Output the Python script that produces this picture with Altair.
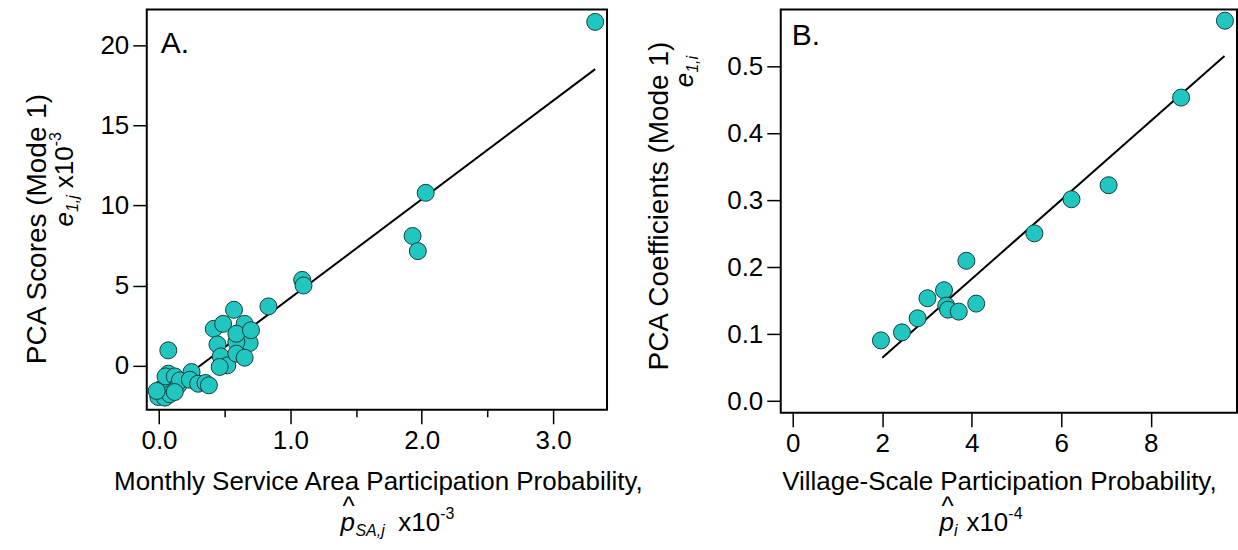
import altair as alt
import pandas as pd

# ---------------- data ----------------
# Panel A: monthly service-area participation probability (x10^-3) vs PCA scores (x10^-3)
a_x = [0.071, 0.571, 0.417, 0.488, 0.652, 0.690, 0.589, 0.445, 0.589, 0.470,
       0.520, 0.589, 0.652, 0.462, 0.700, 0.833, 1.090, 1.100, 1.930, 1.970,
       2.030, 3.320, 0.020, -0.005, 0.045, 0.083, 0.071, 0.050, 0.120, 0.147,
       0.160, 0.248, 0.235, 0.298, 0.354, 0.380, 0.120, -0.017]
a_y = [0.94, 3.48, 2.29, 2.60, 2.60, 1.40, 1.46, 1.31, 1.98, 0.56,
       0.00, 0.73, 0.48, -0.10, 2.20, 3.69, 5.35, 5.00, 8.10, 7.15,
       10.80, 21.50, -1.46, -1.98, -2.02, -1.81, -0.52, -0.69, -0.69, -1.25,
       -0.94, -0.42, -0.90, -1.15, -1.10, -1.25, -1.67, -1.60]
a_fit_x = [-0.005, 3.32]
a_fit_y = [-1.98, 18.54]

# Panel B: village-scale participation probability (x10^-4) vs PCA coefficients
b_x = [1.97, 2.44, 2.79, 3.01, 3.38, 3.43, 3.47, 3.71, 3.88, 4.10,
       5.40, 6.23, 7.06, 8.68, 9.66]
b_y = [0.091, 0.103, 0.124, 0.154, 0.166, 0.143, 0.137, 0.134, 0.210, 0.146,
       0.251, 0.302, 0.323, 0.454, 0.569]
b_fit_x = [2.00, 9.65]
b_fit_y = [0.065, 0.516]

a_xticks = [0.0, 0.5, 1.0, 1.5, 2.0, 2.5, 3.0]
a_yticks = [0, 5, 10, 15, 20]
b_xticks = [0, 2, 4, 6, 8]
b_yticks = [0.0, 0.1, 0.2, 0.3, 0.4, 0.5]

FONT = "Liberation Sans"
FILL = "#21c6c0"
EDGE = "#183c3c"

AW, AH = 461, 401
BW, BH = 457, 404


def txt(s, x, y, size=26, angle=0, align="left", baseline="alphabetic", italic=False):
    return alt.Chart(pd.DataFrame({"t": [s]})).mark_text(
        font=FONT, fontSize=size, angle=angle, align=align, baseline=baseline,
        fontStyle="italic" if italic else "normal", color="black",
    ).encode(x=alt.value(x), y=alt.value(y), text="t:N")


def panel(xs, ys, fx, fy, xdom, ydom, xaxis, yaxis, w, h, extra):
    pts = pd.DataFrame({"x": xs, "y": ys})
    fit = pd.DataFrame({"x": fx, "y": fy})
    xs_ = alt.Scale(domain=xdom, nice=False, zero=False)
    ys_ = alt.Scale(domain=ydom, nice=False, zero=False)
    line = alt.Chart(fit).mark_line(color="black", strokeWidth=2).encode(
        x=alt.X("x:Q", scale=xs_, axis=xaxis, title=None),
        y=alt.Y("y:Q", scale=ys_, axis=yaxis, title=None),
    )
    dots = alt.Chart(pts).mark_circle(
        size=290, fill=FILL, stroke=EDGE, strokeWidth=1, opacity=1
    ).encode(
        x=alt.X("x:Q", scale=xs_, title=None),
        y=alt.Y("y:Q", scale=ys_, title=None),
    )
    return alt.layer(line, dots, *extra).properties(
        width=w, height=h,
        view=alt.ViewBackground(stroke="black", strokeWidth=2, fill="white"),
    )


axis_common = dict(domain=False, grid=False, tickColor="black", tickWidth=1.5,
                   labelFont=FONT, labelFontSize=26, labelColor="black",
                   labelPadding=4, labelOverlap=False)

a_xaxis = alt.Axis(values=a_xticks,
                   tickSize={"condition": {"test": "datum.value % 1 != 0", "value": 7}, "value": 14},
                   labelExpr="datum.value % 1 ? '' : format(datum.value, '.1f')",
                   **axis_common)
a_yaxis = alt.Axis(values=a_yticks, tickSize=14, format="d", **axis_common)
b_xaxis = alt.Axis(values=b_xticks, tickSize=14, format="d", **axis_common)
b_yaxis = alt.Axis(values=b_yticks, tickSize=14, format=".1f", **axis_common)

a_extra = [
    txt("A.", 14, 43.5, size=30),
    # y title
    txt("PCA Scores (Mode 1)", -109, 220, size=28, angle=270, align="center", baseline="middle"),
    txt("e", -74, 217.5, angle=270, italic=True),
    txt("1,j", -69, 203, size=16, angle=270, italic=True),
    txt("x10", -74, 179, angle=270),
    txt("-3", -86, 137, size=16, angle=270),
    # x title
    txt("Monthly Service Area Participation Probability,", 232, 481.5, align="center"),
    txt("p", 194, 522.5, italic=True),
    txt("^", 196, 506.5),
    txt("SA,j", 209, 527.5, size=16, italic=True),
    txt("x10", 252, 522.5),
    txt("-3", 294, 510.5, size=16),
]

b_extra = [
    txt("B.", 11, 36, size=30),
    txt("PCA Coefficients (Mode 1)", -121, 197, size=28, angle=270, align="center", baseline="middle"),
    txt("e", -88, 78, angle=270, italic=True),
    txt("1,i", -83, 63.5, size=16, angle=270, italic=True),
    txt("Village-Scale Participation Probability,", 219, 481.5, align="center"),
    txt("p", 159, 522.5, italic=True),
    txt("^", 161, 506.5),
    txt("i", 173.5, 527.5, size=16, italic=True),
    txt("x10", 186, 522.5),
    txt("-4", 228, 510.5, size=16),
]

chart_a = panel(a_x, a_y, a_fit_x, a_fit_y, [-0.093, 3.41], [-2.78, 22.28],
                a_xaxis, a_yaxis, AW, AH, a_extra)
chart_b = panel(b_x, b_y, b_fit_x, b_fit_y, [-0.27, 9.93], [-0.0172, 0.5858],
                b_xaxis, b_yaxis, BW, BH, b_extra)

chart = alt.hconcat(chart_a, chart_b, spacing=0).properties(
    padding={"left": 23, "top": 8, "right": 0, "bottom": 0},
    background="white",
).configure_view(stroke="black", strokeWidth=2)

chart.save("out.html", embed_options={"renderer": "svg", "actions": False})
